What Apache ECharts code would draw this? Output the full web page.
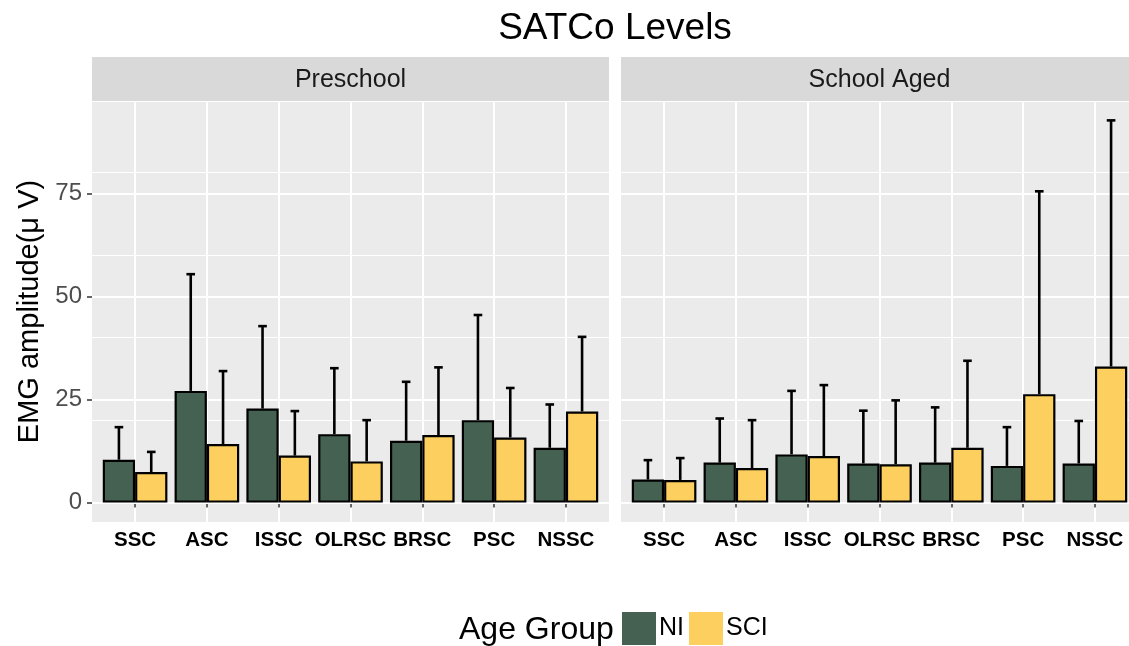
<!DOCTYPE html>
<html>
<head>
<meta charset="utf-8">
<script src="https://cdn.jsdelivr.net/npm/echarts@6/dist/echarts.min.js"></script>
<style>
  html, body { margin: 0; background: #fff; }
  #chart { width: 1129px; height: 646px; }
</style>
</head>
<body>
<div id="chart"></div>
<script>
// ===== Data =====
const categories = ['SSC', 'ASC', 'ISSC', 'OLRSC', 'BRSC', 'PSC', 'NSSC'];
const panels = ['Preschool', 'School Aged'];
const groups = ['NI', 'SCI'];

const preNI = [10.4, 27.1, 22.8, 16.6, 15.0, 20.0, 13.3];
const preNIUpper = [18.3, 55.4, 42.8, 32.6, 29.3, 45.5, 23.8];
const preSCI = [7.4, 14.2, 11.4, 10.0, 16.4, 15.8, 22.1];
const preSCIUpper = [12.3, 31.9, 22.2, 20.0, 32.8, 27.8, 40.2];

const schNI = [5.6, 9.7, 11.7, 9.5, 9.7, 8.9, 9.5];
const schNIUpper = [10.3, 20.4, 27.1, 22.3, 23.1, 18.3, 19.8];
const schSCI = [5.5, 8.4, 11.3, 9.3, 13.3, 26.3, 33.0];
const schSCIUpper = [10.8, 20.0, 28.5, 24.8, 34.4, 75.5, 92.7];

const yTicks = [0, 25, 50, 75];
const yMinorTicks = [12.5, 37.5, 62.5, 87.5];

const colors = { NI: '#456152', SCI: '#FDCF5F' };
const FONT = '"Liberation Sans", Arial, sans-serif';

// ===== Layout =====
// right panel runs past the picture's edge, like the reference crop
const panelBoxes = [
  { left: 92, width: 517 },
  { left: 621, width: 517 }
];
const panelTop = 101, panelHeight = 421;
const xPos = categories.map((c, i) => i + 1);

const panelData = [
  { NI: preNI, NIUp: preNIUpper, SCI: preSCI, SCIUp: preSCIUpper },
  { NI: schNI, NIUp: schNIUpper, SCI: schSCI, SCIUp: schSCIUpper }
];

const chart = echarts.init(document.getElementById('chart'));

const grids = [], xAxes = [], yAxes = [], series = [], graphics = [];

panelBoxes.forEach((box, p) => {
  grids.push({
    left: box.left, width: box.width, top: panelTop, height: panelHeight,
    outerBoundsMode: 'none', containLabel: false,
    show: true, backgroundColor: '#EBEBEB', borderWidth: 0
  });

  xAxes.push({
    type: 'value', gridIndex: p, min: 0.4, max: 7.6,
    axisLine: { show: false },
    axisTick: { show: true, customValues: xPos, length: 5, lineStyle: { color: '#333', width: 1.5 } },
    axisLabel: {
      customValues: xPos, margin: 8,
      formatter: v => categories[Math.round(v) - 1] || '',
      fontFamily: FONT, fontSize: 20.5, fontWeight: 'bold', color: '#000'
    },
    splitLine: { show: true, customValues: xPos, lineStyle: { color: '#fff', width: 2 } }
  });

  // main y axis (labels + major grid)
  yAxes.push({
    type: 'value', gridIndex: p, min: -4.7, max: 97.4,
    name: p === 0 ? 'EMG amplitude(\u03bc V)' : '',
    nameLocation: 'middle', nameGap: 48,
    nameTextStyle: { fontFamily: FONT, fontSize: 29, color: '#000' },
    axisLine: { show: false },
    axisTick: { show: p === 0, customValues: yTicks, length: 5, lineStyle: { color: '#333', width: 1.5 } },
    axisLabel: {
      show: p === 0, customValues: yTicks, margin: 10,
      fontFamily: FONT, fontSize: 24, color: '#4D4D4D'
    },
    splitLine: { show: true, customValues: yTicks, lineStyle: { color: '#fff', width: 2 } },
    z: 1
  });
  // minor y grid
  yAxes.push({
    type: 'value', gridIndex: p, min: -4.7, max: 97.4, position: 'left',
    axisLine: { show: false }, axisTick: { show: false }, axisLabel: { show: false },
    splitLine: { show: true, customValues: yMinorTicks, lineStyle: { color: '#fff', width: 1 } },
    z: 0
  });

  const d = panelData[p];
  groups.forEach(g => {
    series.push({
      name: g, type: 'bar', xAxisIndex: p, yAxisIndex: p * 2,
      barWidth: '45%', barGap: '0%',
      itemStyle: { color: colors[g], borderColor: '#000', borderWidth: 2.2 },
      data: xPos.map((x, k) => [x, d[g][k]]),
      z: 3
    });
  });

  // error bars (mean -> upper)
  const errData = [];
  groups.forEach((g, gi) => {
    xPos.forEach((x, k) => errData.push([x, d[g][k], d[g + 'Up'][k], gi === 0 ? -1 : 1]));
  });
  series.push({
    name: 'err' + p, type: 'custom', xAxisIndex: p, yAxisIndex: p * 2,
    data: errData, z: 4, silent: true,
    renderItem: (params, api) => {
      const cx = api.value(0) + api.value(3) * 0.225;
      const base = api.coord([cx, api.value(1)]);
      const top = api.coord([cx, api.value(2)]);
      const half = api.size([0.06, 0])[0];
      const st = { stroke: '#000', lineWidth: 2.6 };
      return {
        type: 'group', children: [
          { type: 'line', shape: { x1: base[0], y1: base[1], x2: top[0], y2: top[1] }, style: st },
          { type: 'line', shape: { x1: top[0] - half, y1: top[1], x2: top[0] + half, y2: top[1] }, style: st }
        ]
      };
    }
  });

  // facet strip
  graphics.push({
    type: 'rect', left: box.left, top: 57, z: 0,
    shape: { width: box.width, height: 44 }, style: { fill: '#D9D9D9' }
  });
  graphics.push({
    type: 'text', x: box.left + box.width / 2, y: 80, z: 1,
    style: { text: panels[p], font: '25px ' + FONT, fill: '#1A1A1A', align: 'center', verticalAlign: 'middle' }
  });
});

graphics.push({
  type: 'text', x: 459, y: 630,
  style: { text: 'Age Group', font: '32px ' + FONT, fill: '#000', align: 'left', verticalAlign: 'middle' }
});

chart.setOption({
  backgroundColor: '#fff',
  animation: false,
  title: {
    text: 'SATCo Levels', left: 615, top: 10, textAlign: 'center', padding: 0,
    textStyle: { fontFamily: FONT, fontSize: 37, fontWeight: 'normal', color: '#000' }
  },
  legend: {
    data: groups, left: 622, top: 612, icon: 'rect', padding: 0,
    itemWidth: 34, itemHeight: 33, itemGap: 5,
    itemStyle: { borderWidth: 0 },
    textStyle: { fontFamily: FONT, fontSize: 25, color: '#000', padding: [12, 0, 0, -2] },
    selectedMode: false
  },
  grid: grids,
  xAxis: xAxes,
  yAxis: yAxes,
  graphic: graphics,
  series: series
});
</script>
</body>
</html>
